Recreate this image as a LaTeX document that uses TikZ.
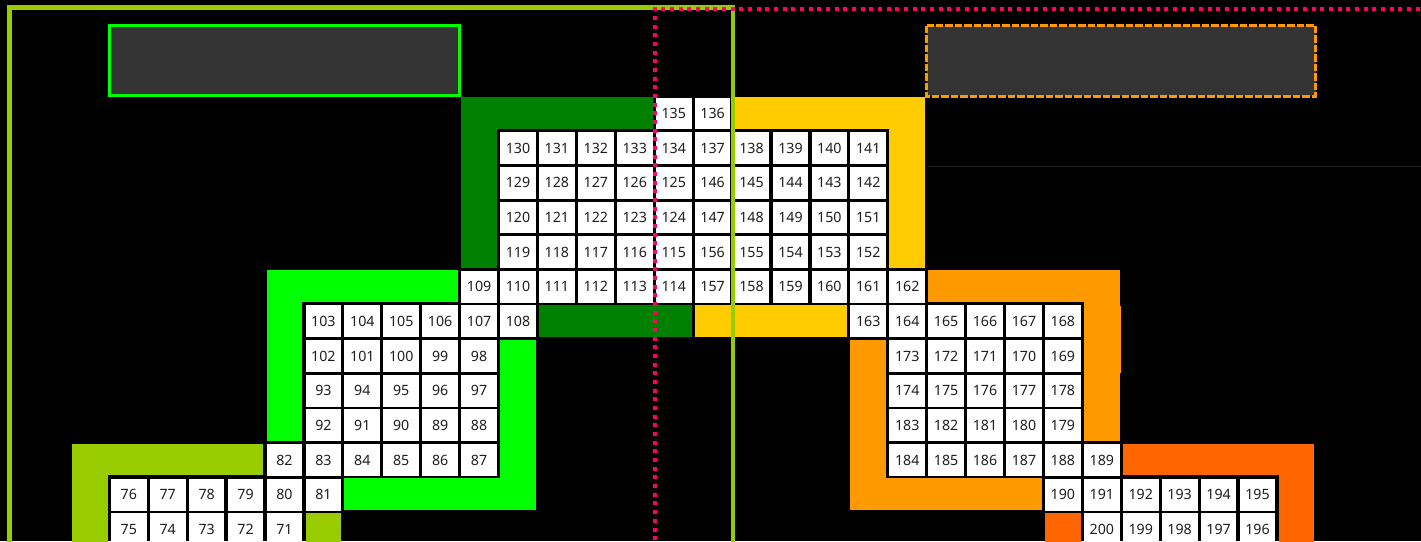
\documentclass[tikz,border=0pt]{standalone}
\usepackage{fontspec}
\setmainfont{Noto Sans}
\definecolor{dkgreen}{HTML}{008000}
\definecolor{ltgreen}{HTML}{00FF00}
\definecolor{ygreen}{HTML}{99CC00}
\definecolor{yel}{HTML}{FFCC00}
\definecolor{orng}{HTML}{FF9900}
\definecolor{ored}{HTML}{FF6600}
\definecolor{dotred}{HTML}{FF0066}
\definecolor{boxgray}{HTML}{343434}
\definecolor{txt}{HTML}{1F1F1F}
\definecolor{faint}{HTML}{202020}
\newcommand\band[5]{\fill[#1] ({128.8+38.92*#2-17.85},{113+34.65*#3-15.95}) rectangle ({128.8+38.92*#4+17.85},{113+34.65*#5+15.95});}
\tikzset{
  cell/.style={fill=white, draw=none, minimum width=35.7pt, minimum height=31.9pt, inner sep=0pt,
    font=\fontsize{14.2}{16}\selectfont, text=txt},
  graybox/.style={fill=boxgray, line width=3pt},
}
\begin{document}
\begin{tikzpicture}[x=1pt,y=-1pt]
\useasboundingbox (0,0) rectangle (1421,541);
\fill[black] (0,0) rectangle (1421,541);
% top boxes
\draw[graybox, draw=ltgreen] (109.5,25.5) rectangle (459.5,95.5);
\draw[graybox, draw=orng, dash pattern=on 7.5pt off 2pt] (926.5,25.5) rectangle (1315.5,96.2);
\node[inner sep=0pt, minimum size=0pt] (lbox) at (284.5,60.5) {};
\node[inner sep=0pt, minimum size=0pt] (rbox) at (1121,60.5) {};
\draw[faint, line width=0.8pt] (928,166.3) -- (1421,166.3);
% colored bands
\band{dkgreen}{9}{0}{13}{0}
\band{dkgreen}{9}{0}{9}{4}
\band{dkgreen}{11}{6}{14}{6}
\band{yel}{16}{0}{20}{0}
\band{yel}{20}{0}{20}{4}
\band{yel}{15}{6}{18}{6}
\band{ltgreen}{4}{5}{8}{5}
\band{ltgreen}{4}{5}{4}{9}
\band{ltgreen}{10}{7}{10}{11}
\band{ltgreen}{6}{11}{10}{11}
\band{orng}{21}{5}{25}{5}
\band{orng}{25}{5}{25}{9}
\band{orng}{19}{7}{19}{11}
\band{orng}{19}{11}{23}{11}
\fill[orng] (1118,306) rectangle (1121,372.7);
\band{ored}{26}{10}{30}{10}
\band{ored}{30}{10}{30}{13}
\band{ored}{24}{12}{24}{13}
\band{ygreen}{-1}{10}{3}{10}
\band{ygreen}{-1}{10}{-1}{13}
\band{ygreen}{5}{12}{5}{13}
% cells
\foreach \c/\r/\t in {
  14/0/135, 15/0/136,
  10/1/130, 11/1/131, 12/1/132, 13/1/133, 14/1/134, 15/1/137, 16/1/138, 17/1/139, 18/1/140, 19/1/141,
  10/2/129, 11/2/128, 12/2/127, 13/2/126, 14/2/125, 15/2/146, 16/2/145, 17/2/144, 18/2/143, 19/2/142,
  10/3/120, 11/3/121, 12/3/122, 13/3/123, 14/3/124, 15/3/147, 16/3/148, 17/3/149, 18/3/150, 19/3/151,
  10/4/119, 11/4/118, 12/4/117, 13/4/116, 14/4/115, 15/4/156, 16/4/155, 17/4/154, 18/4/153, 19/4/152,
  9/5/109, 10/5/110, 11/5/111, 12/5/112, 13/5/113, 14/5/114, 15/5/157, 16/5/158, 17/5/159, 18/5/160, 19/5/161, 20/5/162,
  5/6/103, 6/6/104, 7/6/105, 8/6/106, 9/6/107, 10/6/108, 19/6/163, 20/6/164, 21/6/165, 22/6/166, 23/6/167, 24/6/168,
  5/7/102, 6/7/101, 7/7/100, 8/7/99, 9/7/98, 20/7/173, 21/7/172, 22/7/171, 23/7/170, 24/7/169,
  5/8/93, 6/8/94, 7/8/95, 8/8/96, 9/8/97, 20/8/174, 21/8/175, 22/8/176, 23/8/177, 24/8/178,
  5/9/92, 6/9/91, 7/9/90, 8/9/89, 9/9/88, 20/9/183, 21/9/182, 22/9/181, 23/9/180, 24/9/179,
  4/10/82, 5/10/83, 6/10/84, 7/10/85, 8/10/86, 9/10/87, 20/10/184, 21/10/185, 22/10/186, 23/10/187, 24/10/188, 25/10/189,
  0/11/76, 1/11/77, 2/11/78, 3/11/79, 4/11/80, 5/11/81, 24/11/190, 25/11/191, 26/11/192, 27/11/193, 28/11/194, 29/11/195,
  0/12/75, 1/12/74, 2/12/73, 3/12/72, 4/12/71, 25/12/200, 26/12/199, 27/12/198, 28/12/197, 29/12/196}
  {\node[cell] (n\t) at ({128.8+38.92*\c},{113.5+34.65*\r}) {\t};}
% large frames
\draw[ygreen, line width=4.5pt] (9.5,560) -- (9.5,7.5) -- (733.2,7.5) -- (733.2,560);
\draw[dotred, line width=4pt, dash pattern=on 4pt off 4.67pt] (652.7,9.3) -- (1440,9.3);
\draw[dotred, line width=4pt, dash pattern=on 4pt off 4.67pt] (654.7,7.3) -- (654.7,560);
\end{tikzpicture}
\end{document}
